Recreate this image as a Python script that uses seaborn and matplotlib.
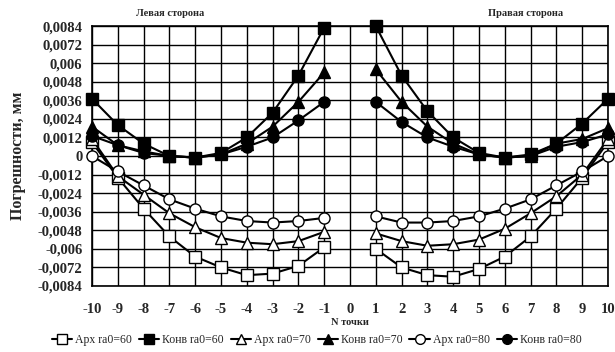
import numpy as np
import pandas as pd
import matplotlib.pyplot as plt
import seaborn as sns
from matplotlib.lines import Line2D

sns.set_style('white')
plt.rcParams['font.family'] = ['Liberation Serif', 'DejaVu Serif']
plt.rcParams['font.weight'] = 'bold'

# N points (no point at 0)
n_left = [-10, -9, -8, -7, -6, -5, -4, -3, -2, -1]
n_right = [1, 2, 3, 4, 5, 6, 7, 8, 9, 10]

# errors, mm (left side / right side)
arh60_l = [0.0009, -0.0014, -0.0034, -0.0052, -0.0065, -0.0072, -0.0077, -0.0076, -0.0071, -0.0059]
arh60_r = [-0.0060, -0.0072, -0.0077, -0.0078, -0.0073, -0.0065, -0.0052, -0.0034, -0.0014, 0.0009]
konv60_l = [0.0037, 0.0020, 0.0008, 0.0000, -0.0001, 0.0002, 0.0012, 0.0028, 0.0052, 0.0083]
konv60_r = [0.0084, 0.0052, 0.0029, 0.0012, 0.0002, -0.0001, 0.0001, 0.0008, 0.0021, 0.0037]
arh70_l = [0.0011, -0.0013, -0.0025, -0.0037, -0.0046, -0.0053, -0.0056, -0.0057, -0.0055, -0.0049]
arh70_r = [-0.0050, -0.0055, -0.0058, -0.0057, -0.0054, -0.0047, -0.0037, -0.0026, -0.0012, 0.0011]
konv70_l = [0.0019, 0.0007, 0.0003, 0.0000, -0.0001, 0.0001, 0.0008, 0.0019, 0.0035, 0.0054]
konv70_r = [0.0056, 0.0035, 0.0019, 0.0008, 0.0001, -0.0001, 0.0000, 0.0008, 0.0011, 0.0018]
arh80_l = [0.0000, -0.0010, -0.0019, -0.0028, -0.0034, -0.0039, -0.0042, -0.0043, -0.0042, -0.0040]
arh80_r = [-0.0039, -0.0043, -0.0043, -0.0042, -0.0039, -0.0034, -0.0028, -0.0019, -0.0010, 0.0000]
konv80_l = [0.0013, 0.0007, 0.0002, 0.0000, -0.0001, 0.0001, 0.0006, 0.0012, 0.0023, 0.0035]
konv80_r = [0.0035, 0.0022, 0.0012, 0.0006, 0.0001, -0.0001, 0.0000, 0.0006, 0.0009, 0.0014]

series = [
    ('Арх ra0=60', arh60_l, arh60_r, 's', 'white'),
    ('Конв ra0=60', konv60_l, konv60_r, 's', 'black'),
    ('Арх ra0=70', arh70_l, arh70_r, '^', 'white'),
    ('Конв ra0=70', konv70_l, konv70_r, '^', 'black'),
    ('Арх ra0=80', arh80_l, arh80_r, 'o', 'white'),
    ('Конв ra0=80', konv80_l, konv80_r, 'o', 'black'),
]

y_ticks = [0.0084, 0.0072, 0.006, 0.0048, 0.0036, 0.0024, 0.0012, 0, -0.0012,
           -0.0024, -0.0036, -0.0048, -0.006, -0.0072, -0.0084]
y_labels = ['0,0084', '0,0072', '0,006', '0,0048', '0,0036', '0,0024', '0,0012', '0',
            '-0,0012', '-0,0024', '-0,0036', '-0,0048', '-0,006', '-0,0072', '-0,0084']

fig = plt.figure(figsize=(6.15, 3.52), dpi=100)
ax = fig.add_axes([0.1496, 0.1875, 0.839, 0.7385])

handles = []
for name, left, right, mk, fc in series:
    for nn, vals in [(n_left, left), (n_right, right)]:
        df = pd.DataFrame({'N': nn, 'err': vals})
        sns.lineplot(data=df, x='N', y='err', ax=ax, color='black', lw=1.5,
                     marker=mk, markersize=8, markerfacecolor=fc,
                     markeredgecolor='black', markeredgewidth=1.0, zorder=3,
                     clip_on=False)
    handles.append(Line2D([], [], color='black', lw=1.5, marker=mk, markersize=7,
                          markerfacecolor=fc, markeredgecolor='black', label=name))

ax.set_xlim(-10, 10)
ax.set_ylim(-0.0084, 0.0084)
ax.set_xticks(range(-10, 11))
ax.set_xticklabels([str(i) for i in range(-10, 11)], fontsize=10.5, fontweight='bold')
ax.set_yticks(y_ticks)
ax.set_yticklabels(y_labels, fontsize=10.5, fontweight='bold')
ax.tick_params(axis='x', pad=12, length=0)
ax.tick_params(axis='y', length=0, pad=7)
ax.grid(True, color='black', lw=1.0)
ax.set_axisbelow(True)
for s in ax.spines.values():
    s.set_color('black')
    s.set_linewidth(1.2)

ax.set_xlabel('N точки', fontsize=7.5, fontweight='bold', labelpad=2)
ax.set_ylabel('Погрешности, мм', fontsize=11.5, fontweight='bold', labelpad=8)

fig.text(0.277, 0.963, 'Левая сторона', ha='center', va='center', fontsize=7.5, fontweight='bold')
fig.text(0.855, 0.963, 'Правая сторона', ha='center', va='center', fontsize=7.5, fontweight='bold')

fig.legend(handles=handles, loc='center', bbox_to_anchor=(0.515, 0.035), ncol=6, frameon=False,
           handlelength=1.7, handletextpad=0.25, columnspacing=0.6,
           prop={'weight': 'normal', 'size': 8.5})

fig.savefig('out.png', dpi=100)
